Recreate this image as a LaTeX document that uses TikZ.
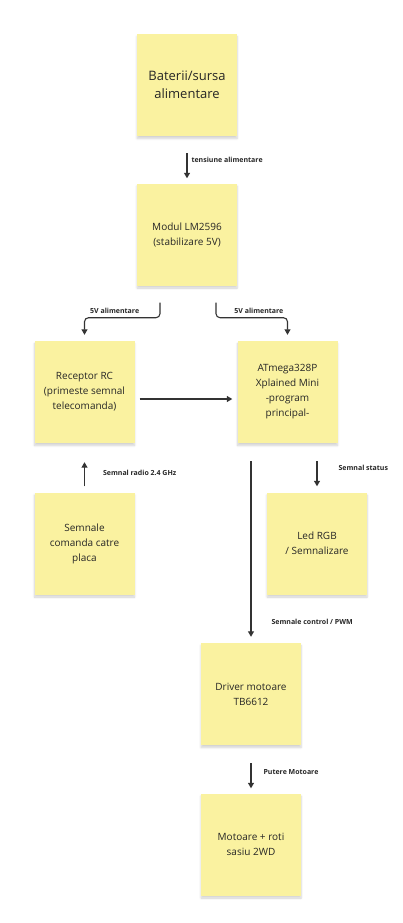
\documentclass[tikz,border=0pt]{standalone}
\usepackage{fontspec}
\setmainfont{Open Sans}
\usetikzlibrary{arrows.meta, positioning, shadows.blur}
\definecolor{noteyellow}{RGB}{250,242,160}
\definecolor{inkgray}{RGB}{51,51,51}

\begin{document}
\begin{tikzpicture}[
    x=1pt, y=-1pt,
    note/.style={rectangle, fill=noteyellow, minimum width=100pt, minimum height=102pt, align=center, text=black!85, font=\fontsize{10}{15}\selectfont, blur shadow={shadow xshift=0pt, shadow yshift=-2.5pt, shadow opacity=18, shadow blur steps=6}},
    lbl/.style={font=\fontsize{7}{8}\selectfont\bfseries, text=black!85, inner sep=1pt},
    arrow/.style={-{Triangle[width=6pt,length=5.5pt]}, draw=inkgray, line width=1.1pt}
]
\useasboundingbox (0,0) rectangle (403,923);

% ---- notite (sticky notes) ----
\node[note, font=\fontsize{13}{18.5}\selectfont] (bat) at (187,85)    {Baterii/sursa\\ alimentare};
\node[note]                                      (lm)  at (187,234.5) {Modul LM2596\\ (stabilizare 5V)};
\node[note] (rc)  at (84.5,392)  {Receptor RC\\(primeste semnal\\telecomanda)};
\node[note] (atm) at (287.5,392) {ATmega328P\\Xplained Mini\\-program\\principal-};
\node[note] (cmd) at (84.5,543.5) {Semnale\\comanda catre\\placa};
\node[note] (led) at (317,543.5)  {Led RGB\\/ Semnalizare};
\node[note] (drv) at (251,694)    {Driver motoare\\TB6612};
\node[note] (mot) at (251,844.5)  {Motoare + roti\\sasiu 2WD};

% ---- alimentare ----
\draw[arrow, shorten <=17pt, shorten >=5pt] (bat) -- node[lbl, right=3pt]{tensiune alimentare} (lm);
\draw[arrow, rounded corners=4pt, shorten <=17pt, shorten >=6pt]
    ([xshift=-27pt]lm.south) -- ++(0,32) -| node[lbl, pos=0.3, above=3pt]{5V alimentare} (rc.north);
\draw[arrow, rounded corners=4pt, shorten <=17pt, shorten >=6pt]
    ([xshift=29pt]lm.south) -- ++(0,32) -| node[lbl, pos=0.3, above=3pt]{5V alimentare} (atm.north);

% ---- semnale ----
\draw[arrow, shorten <=5pt, shorten >=5pt] ([yshift=-7pt]rc.east) -- ([yshift=-7pt]atm.west);
\draw[arrow, shorten <=6pt, shorten >=19pt] (cmd) -- node[lbl, pos=0.4, right=17pt]{Semnal radio 2.4 GHz} (rc);
\draw[arrow, shorten <=18pt, shorten >=6pt] (atm.south -| led.north) -- node[lbl, right=20pt]{Semnal status} (led.north);
\draw[arrow, shorten <=18pt, shorten >=6pt] (atm.south -| drv.north) -- node[lbl, pos=0.895, right=19pt]{Semnale control / PWM} (drv.north);
\draw[arrow, shorten <=18pt, shorten >=5pt] (drv) -- node[lbl, pos=0.56, right=11pt]{Putere Motoare} (mot);

\end{tikzpicture}
\end{document}
